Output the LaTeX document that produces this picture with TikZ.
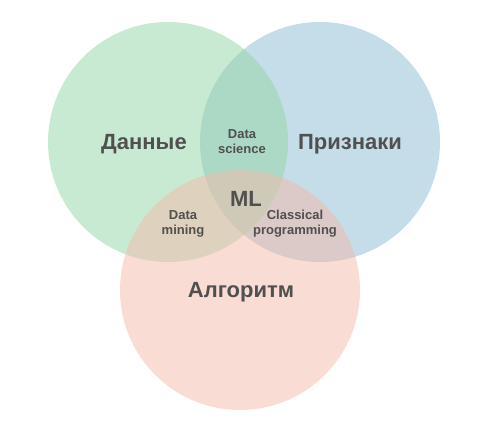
\documentclass[tikz,border=0pt]{standalone}
\usepackage{fontspec}
\setmainfont{Liberation Sans}
\usetikzlibrary{positioning}
\definecolor{setgreen}{RGB}{147,213,165}
\definecolor{setblue}{RGB}{139,187,209}
\definecolor{setpink}{RGB}{243,185,169}
\definecolor{labelgray}{RGB}{80,80,80}

\begin{document}
\begin{tikzpicture}[x=1pt, y=-1pt,
        set/.style={circle, minimum size=240pt, inner sep=0pt, fill opacity=0.5},
        biglabel/.style={font=\fontsize{22}{26}\selectfont\bfseries, text=labelgray},
        smalllabel/.style={font=\fontsize{13}{15}\selectfont\bfseries, text=labelgray, align=center}]
        \useasboundingbox (0,0) rectangle (491,429);

        \node[set, fill=setblue] (features) at (320,142) {};
        \node[set, fill=setgreen] (data) at (168,142) {};
        \node[set, fill=setpink] (algo) at (240,290) {};

        \node[biglabel] (datalbl) at (144,144) {Данные};
        \node[biglabel] (featlbl) at (350,144) {Признаки};
        \node[biglabel] (algolbl) at (241,292) {Алгоритм};
        \node[biglabel] (ml) at (246,199) {ML};

        \node[smalllabel] (dsci) at (242,142) {Data\\science};
        \node[smalllabel] (dmin) at (183,224) {Data\\mining};
        \node[smalllabel] (cprog) at (295,224) {Classical\\programming};
    \end{tikzpicture}
\end{document}
